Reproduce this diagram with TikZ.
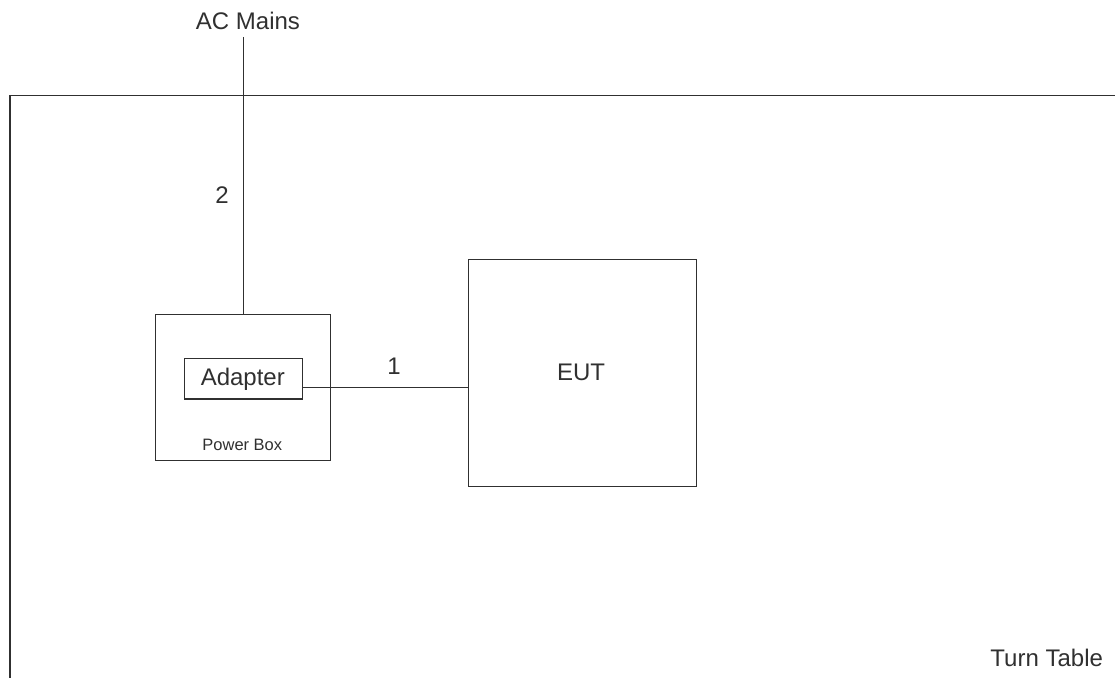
\documentclass[tikz,border=0pt]{standalone}
\usepackage{fontspec}
\setmainfont{Liberation Sans}
\definecolor{ink}{HTML}{303030}
\begin{document}
\begin{tikzpicture}[x=1pt,y=-1pt,
  box/.style={draw=ink,line width=1.1pt,rectangle,inner sep=0pt},
  wire/.style={draw=ink,line width=1.1pt},
  txt/.style={text=ink,inner sep=0pt,anchor=base,font=\fontsize{24}{28}\selectfont},
  smalltxt/.style={text=ink,inner sep=0pt,anchor=base,font=\fontsize{16.5}{20}\selectfont}]
\useasboundingbox (0,0) rectangle (1115,677);
% turn table
\coordinate (ttright) at (1116,95.5);
\coordinate (ttcorner) at (10,95.5);
\coordinate (ttbottom) at (10,678);
\draw[wire] (ttright) -- (ttcorner) -- (ttbottom);
\node[txt] (tt) at (1046.7,666) {Turn Table};
% boxes
\node[box,minimum width=175pt,minimum height=146pt] (pbox) at (243.3,387.7) {};
\node[box,minimum width=118pt,minimum height=40.3pt] (adapter) at (243.3,378.8) {};
\node[txt] (adaptertxt) at (242.8,385) {Adapter};
\node[smalltxt] (pboxtxt) at (242.3,450.5) {Power Box};
\node[box,minimum width=228.4pt,minimum height=227.7pt] (eut) at (582.5,372.9) {};
\node[txt] (euttxt) at (581,380) {EUT};
% AC mains
\node[txt] (acm) at (248,30) {AC Mains};
\coordinate (acmend) at (243.3,37);
\draw[wire] (acmend) -- (pbox.north);
\node[txt] (l2) at (222,203) {2};
% cable 1
\coordinate (c1) at (0,387.7);
\draw[wire] (adapter.east |- c1) -- (eut.west |- c1);
\node[txt] (l1) at (394,374) {1};
\end{tikzpicture}
\end{document}
